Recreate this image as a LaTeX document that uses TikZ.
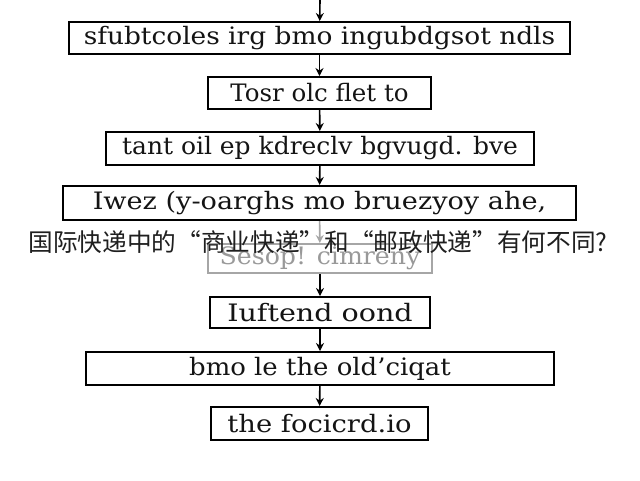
\documentclass[tikz,border=0pt]{standalone}
\usepackage{fontspec}
\usepackage{graphicx}
\setmainfont{DejaVu Serif}
\newfontfamily\cjk{Noto Sans CJK SC}
\usetikzlibrary{arrows.meta}
\newcommand\wideby[2]{\scalebox{#1}[1]{#2}}
\begin{document}
\begin{tikzpicture}[x=0.75pt,y=-0.75pt,
  stepbox/.style={draw=black, line width=1.5pt, inner sep=0pt, fill=white,
    font=\fontsize{18}{18}\selectfont, text=black!92},
  fadedbox/.style={stepbox, draw=black!35, text=black!40},
  flow/.style={-{Stealth[length=6pt,width=6pt]}, line width=1.2pt, black},
  fadedflow/.style={flow, black!35},
  overlay/.style={font=\cjk\fontsize{18.5}{18.5}\selectfont, text=black!88, inner sep=0pt}]
\useasboundingbox (0,0) rectangle (640,480);
\fill[white] (0,0) rectangle (640,480);
\coordinate (top) at (320,0);
\node[stepbox, minimum width=375.75pt, minimum height=24pt] (b1) at (319.5,38) {\wideby{1.1}{sfubtcoles irg bmo ingubdgsot ndls}};
\node[stepbox, minimum width=167.25pt, minimum height=24pt] (b2) at (319.5,93) {\wideby{1.02}{Tosr olc flet to}};
\node[stepbox, minimum width=321pt, minimum height=24.75pt] (b3) at (320,148.5) {\wideby{1.04}{tant oil ep kdreclv bgvugd. bve}};
\node[stepbox, minimum width=384.75pt, minimum height=25.5pt] (b4) at (319.5,203) {\wideby{1.13}{Iwez (y-oarghs mo bruezyoy ahe,}};
\node[fadedbox, minimum width=168pt, minimum height=21.75pt] (b5) at (320,258.5) {\wideby{1.05}{Sesop! cimreny}};
\node[stepbox, minimum width=165pt, minimum height=23.25pt] (b6) at (320,312.5) {\wideby{1.19}{Iuftend oond}};
\node[stepbox, minimum width=351pt, minimum height=24.75pt] (b7) at (320,368.5) {\wideby{1.08}{bmo le the old'ciqat}};
\node[stepbox, minimum width=162.75pt, minimum height=24.75pt] (b8) at (319.5,423.5) {\wideby{1.14}{the focicrd.io}};
\draw[flow] (top) -- (b1);
\draw[flow] (b1) -- (b2);
\draw[flow] (b2) -- (b3);
\draw[flow] (b3) -- (b4);
\draw[fadedflow] (b4) -- (b5);
\draw[flow] (b5) -- (b6);
\draw[flow] (b6) -- (b7);
\draw[flow] (b7) -- (b8);
\node[overlay] (q) at (318,242) {国际快递中的“商业快递”和“邮政快递”有何不同?};
\end{tikzpicture}
\end{document}
